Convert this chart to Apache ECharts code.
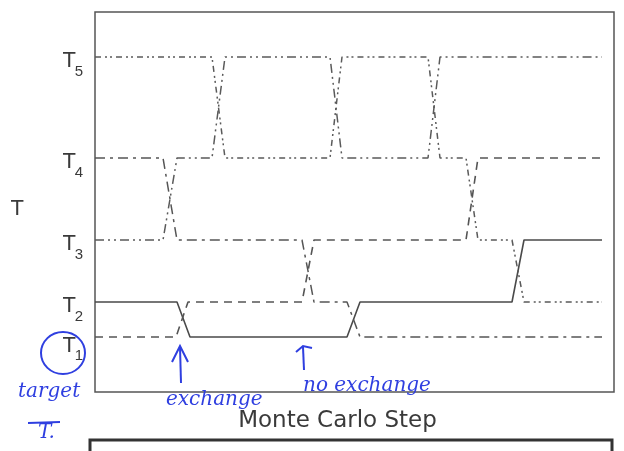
<!DOCTYPE html>
<html><head><meta charset="utf-8">
<script src="https://cdn.jsdelivr.net/npm/echarts@6/dist/echarts.min.js"></script>
<style>html,body{margin:0;padding:0;background:#fff}#c{width:624px;height:451px}</style>
</head><body><div id="c"></div>
<script>
// temperature levels (position on the T axis)
const levelNames = ['T1','T2','T3','T4','T5'];
const levelValues = [55, 90, 152, 234, 335];
// replica trajectories: Monte Carlo step and occupied level index
const solidSteps  = [0, 82, 95, 252, 265, 417, 429, 507];
const solidLevels = [1, 1, 0, 0, 1, 1, 2, 2];
const dashSteps   = [0, 81, 93, 207, 219, 371, 383, 507];
const dashLevels  = [0, 0, 1, 1, 2, 2, 3, 3];
const repASteps   = [0, 68, 82, 117, 130, 235, 247, 333, 345, 507];
const repALevels  = [2, 2, 3, 3, 4, 4, 3, 3, 4, 4];
const repBSteps   = [0, 68, 82, 207, 219, 252, 265, 507];
const repBLevels  = [3, 3, 2, 2, 1, 1, 0, 0];
const repCSteps   = [0, 117, 130, 235, 247, 333, 345, 371, 383, 417, 429, 507];
const repCLevels  = [4, 4, 3, 3, 4, 4, 3, 3, 2, 2, 1, 1];

function pts(steps, lv){ return steps.map((s,i)=>[s, levelValues[lv[i]]]); }
function ser(steps, lv, type, color, w){
  return {type:'line', data:pts(steps,lv), symbol:'none', silent:true, yAxisIndex:0,
    lineStyle:{color:color, width:w, type:type}, z:3};
}
function nameOf(v){ return levelNames[levelValues.indexOf(v)]; }
const blue = '#2f3fe0';
const hand = 'italic 20px "DejaVu Serif"';
const txt = '#3a3a3a';
const baseY = {type:'value', min:0, max:380, position:'left', offset:0, axisLine:{show:false},
  axisTick:{show:false}, splitLine:{show:false}};
const chart = echarts.init(document.getElementById('c'));
chart.setOption({
  animation:false,
  grid:{left:95, right:10, top:12, bottom:59, show:true, borderColor:'#555', borderWidth:1.5},
  xAxis:{type:'value', min:0, max:519, axisLine:{show:false}, axisTick:{show:false},
    axisLabel:{show:false}, splitLine:{show:false},
    name:'Monte Carlo Step', nameLocation:'middle', nameGap:18,
    nameTextStyle:{fontFamily:'DejaVu Sans', fontSize:23, color:txt, padding:[0,34,0,0]}},
  yAxis:[
    Object.assign({}, baseY, {
      name:'T', nameLocation:'middle', nameGap:71, nameRotate:0,
      nameTextStyle:{fontFamily:'Liberation Sans', fontSize:22, color:txt, verticalAlign:'top', lineHeight:14},
      axisLabel:{customValues:levelValues, margin:19, verticalAlign:'top', lineHeight:7,
        fontFamily:'Liberation Sans', fontSize:22, color:txt,
        formatter:function(v){ const c = nameOf(v).charAt(0); return v === levelValues[0] ? '{lo|' + c + '}' : c; },
        rich:{lo:{fontFamily:'Liberation Sans', fontSize:22, color:txt, lineHeight:17}}}}),
    Object.assign({}, baseY, {
      axisLabel:{customValues:levelValues, margin:12, verticalAlign:'top', lineHeight:29,
        fontFamily:'Liberation Sans', fontSize:15, color:txt,
        formatter:function(v){ const c = nameOf(v).slice(1); return v === levelValues[0] ? '{lo|' + c + '}' : c; },
        rich:{lo:{fontFamily:'Liberation Sans', fontSize:15, color:txt, lineHeight:38}}}})
  ],
  series:[
    ser(solidSteps, solidLevels, 'solid', '#4a4a4a', 1.6),
    ser(dashSteps, dashLevels, [8,6], '#555', 1.6),
    ser(repASteps, repALevels, [9,4,2,4,2,4], '#5a5a5a', 1.5),
    ser(repBSteps, repBLevels, [10,5,3,5], '#555', 1.5),
    ser(repCSteps, repCLevels, [6,4,2,3,2,4], '#5a5a5a', 1.5)
  ],
  graphic:[
    {type:'rect', shape:{x:90, y:440, width:522, height:30}, style:{fill:'none', stroke:'#333', lineWidth:3}},
    {type:'ellipse', shape:{cx:63, cy:353, rx:22, ry:21}, style:{fill:'none', stroke:blue, lineWidth:2}},
    {type:'text', left:18, top:382, style:{text:'target', font:hand, fill:blue}},
    {type:'line', shape:{x1:28, y1:423, x2:60, y2:422}, style:{stroke:blue, lineWidth:2}},
    {type:'text', left:38, top:423, style:{text:'T.', font:hand, fill:blue}},
    {type:'line', shape:{x1:181, y1:383, x2:180, y2:347}, style:{stroke:blue, lineWidth:2}},
    {type:'polyline', shape:{points:[[172,362],[180,346],[188,362]]}, style:{stroke:blue, lineWidth:2, fill:'none'}},
    {type:'text', left:166, top:390, style:{text:'exchange', font:hand, fill:blue}},
    {type:'line', shape:{x1:304, y1:370, x2:303, y2:347}, style:{stroke:blue, lineWidth:2}},
    {type:'polyline', shape:{points:[[296,352],[303,346],[312,348]]}, style:{stroke:blue, lineWidth:2, fill:'none'}},
    {type:'text', left:303, top:376, style:{text:'no exchange', font:hand, fill:blue}}
  ]
});
</script></body></html>
